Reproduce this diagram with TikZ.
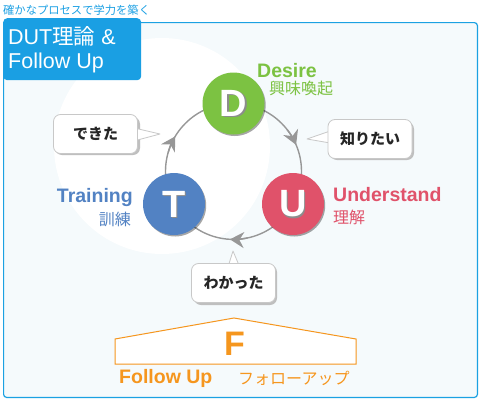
\documentclass[tikz,border=0pt]{standalone}
\usepackage{fontspec}
\setmainfont{Liberation Sans}
\newfontfamily\jp{Noto Sans CJK JP}
\usetikzlibrary{arrows.meta,shadows}
\definecolor{frameblue}{HTML}{1BA1E2}
\definecolor{titleblue}{HTML}{1A9FE3}
\definecolor{framefill}{HTML}{F5FAFC}
\definecolor{dgreen}{HTML}{7CC242}
\definecolor{tblue}{HTML}{5282C3}
\definecolor{ured}{HTML}{E0526A}
\definecolor{forange}{HTML}{F5961E}
\definecolor{cyclegray}{HTML}{979797}
\definecolor{bubbleline}{HTML}{C8C8C8}
\begin{document}
\begin{tikzpicture}[x=1pt,y=-1pt,
  txt/.style={inner sep=0pt, anchor=base west},
  lat/.style={font=\fontsize{19.5}{22}\selectfont\bfseries},
  jpl/.style={font=\jp\fontsize{16}{18}\selectfont},
  phase/.style={circle, minimum size=62pt, inner sep=0pt,
    drop shadow={shadow xshift=1.2pt, shadow yshift=-1.5pt, opacity=0.35, fill=black}},
  letter/.style={text=white, font=\fontsize{38}{40}\selectfont\bfseries, inner sep=0pt},
  lettershadow/.style={text=black!45, font=\fontsize{38}{40}\selectfont\bfseries, inner sep=0pt},
  bubble/.style={draw=bubbleline, fill=white, rounded corners=7pt, line width=0.8pt,
    minimum width=84pt, minimum height=39pt, inner sep=0pt,
    font=\jp\bfseries\fontsize{15}{17}\selectfont, text=black!85},
  tail/.style={draw=bubbleline, fill=white, line width=0.8pt, line join=round},
  bshadow/.style={fill=black!25, rounded corners=7pt},
  cyclearrow/.style={cyclegray, line width=1.4pt, -{Stealth[length=14pt,width=16pt]}}
]
\useasboundingbox (0,0) rectangle (480,410);
% top caption
\node[txt, text=titleblue, font=\jp\fontsize{11.3}{13}\selectfont] (cap) at (3,14) {確かなプロセスで学力を築く};
% frame
\draw[frameblue, line width=1.2pt, fill=framefill, rounded corners=3pt] (3.6,22.6) rectangle (477.4,397.4);
% big white disc
\fill[white] (162,146) circle[radius=108];
% title box
\node[fill=titleblue, rounded corners=4pt, minimum width=138pt, minimum height=62pt, inner sep=0pt, anchor=north west] (title) at (3,18) {};
\node[txt, text=white, font=\fontsize{21.5}{24}\selectfont] (t1) at (8,44) {DUT{\jp 理論} \&};
\node[txt, text=white, font=\fontsize{21.5}{24}\selectfont] (t2) at (8,68) {Follow Up};
% cycle circle
\coordinate (cyc) at (233.5,171.4);
\draw[cyclegray, line width=1.4pt] (cyc) circle[radius=68];
\draw[cyclearrow] ([shift={(-38:68)}]cyc) arc[start angle=-38, end angle=-23, radius=68];
\draw[cyclearrow] ([shift={(78:68)}]cyc) arc[start angle=78, end angle=93, radius=68];
\draw[cyclearrow] ([shift={(196:68)}]cyc) arc[start angle=196, end angle=211, radius=68];
% phase circles
\node[phase, fill=dgreen] (D) at (233.5,103.5) {};
\node[phase, fill=tblue] (T) at (174,204) {};
\node[phase, fill=ured] (U) at (293,204) {};
\foreach \n/\l in {D/D,T/T,U/U}{
  \node[lettershadow] at ([shift={(1.3pt,-1.3pt)}]\n.center) {\l};
  \node[letter] at (\n.center) {\l};
}
% labels
\node[txt, lat, text=dgreen] (ld) at (257,77) {Desire};
\node[txt, jpl, text=dgreen] (ld2) at (269,94) {興味喚起};
\node[txt, lat, text=tblue, anchor=base east] (lt) at (133,202) {Training};
\node[txt, jpl, text=tblue, anchor=base east] (lt2) at (131,225) {訓練};
\node[txt, lat, text=ured] (lu) at (333,201) {Understand};
\node[txt, jpl, text=ured] (lu2) at (333,223) {理解};
% bubbles
\coordinate (b1tip) at (160,134);
\coordinate (b2tip) at (307,139);
\coordinate (b3tip) at (233,251);
\fill[bshadow] (55,117) rectangle (140,155);
\fill[bshadow] (330,122) rectangle (414,160);
\fill[bshadow] (194,265) rectangle (277,305);
\draw[tail] (130,127) -- (b1tip) -- (130,142);
\draw[tail] (336,129) -- (b2tip) -- (336,144);
\draw[tail] (227,270) -- (b3tip) -- (241,270);
\node[bubble] (b1) at (95.5,134) {できた};
\node[bubble] (b2) at (370,139) {知りたい};
\node[bubble] (b3) at (233.5,283) {わかった};
% follow up house
\draw[forange, line width=1pt, fill=white, line join=miter] (115,364) -- (115,339) -- (234,318) -- (356,339) -- (356,364) -- cycle;
\node[txt, text=forange, font=\fontsize{34}{36}\selectfont\bfseries, anchor=base] (F) at (234.5,355) {F};
\node[txt, lat, text=forange] (lf) at (119,383) {Follow Up};
\node[txt, jpl, text=forange] (lf2) at (238,384) {フォローアップ};
\end{tikzpicture}
\end{document}
